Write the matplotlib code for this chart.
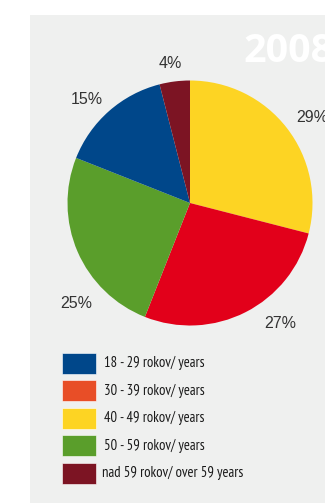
import matplotlib
matplotlib.use("Agg")
import matplotlib.pyplot as plt
from matplotlib.patches import Rectangle

# Age structure, year 2008
year = "2008"
categories = ["18 - 29 rokov/ years", "30 - 39 rokov/ years", "40 - 49 rokov/ years",
              "50 - 59 rokov/ years", "nad 59 rokov/ over 59 years"]
legend_colors = ["#00478A", "#E84E27", "#FDD423", "#5A9E2B", "#7C1423"]

# Pie slices, clockwise from 12 o'clock
slice_values = [29, 27, 25, 15, 4]
slice_colors = ["#FDD423", "#E2001A", "#5A9E2B", "#00478A", "#7C1423"]

W, H = 325, 503
fig = plt.figure(figsize=(W / 100, H / 100), dpi=100)
fig.patch.set_facecolor("white")

def fx(px):
    return px / W

def fy(py):
    return 1 - py / H

# grey panel
fig.add_artist(Rectangle((fx(30), 0), 1 - fx(30), fy(15), transform=fig.transFigure,
                         facecolor="#EFF0EF", edgecolor="none", zorder=0))

# pie axes
cx, cy, r = 190, 203, 122.5
ax = fig.add_axes([fx(cx - r), fy(cy + r), 2 * r / W, 2 * r / H])
ax.set_facecolor("none")
ax.pie(slice_values, colors=slice_colors, startangle=90, counterclock=False,
       radius=1, wedgeprops=dict(linewidth=0))
ax.set_xlim(-1, 1)
ax.set_ylim(-1, 1)
ax.set_aspect("equal")
ax.axis("off")

# percentage labels
label_px = [(312, 118), (280, 323), (76, 304), (87, 99), (170, 64)]
for v, (px, py) in zip(slice_values, label_px):
    ax.text((px - cx) / r, (cy - py) / r, f"{v}%", ha="center", va="center",
            fontsize=11.5, color="#333333", family="Liberation Sans", clip_on=False)

# year title
fig.text(fx(243), fy(51), year, ha="left", va="center", fontsize=28.5,
         fontweight="bold", color="white", family=["Open Sans", "DejaVu Sans"])

# legend
row_y = [363, 390.5, 418, 445.5, 473]
for lab, col, y in zip(categories, legend_colors, row_y):
    fig.add_artist(Rectangle((fx(62), fy(y + 10.5)), 33.5 / W, 21 / H,
                             transform=fig.transFigure, facecolor=col,
                             edgecolor="white", linewidth=0.4, zorder=2))
    x0 = 101.5 if lab.startswith("nad") else 104
    fig.text(fx(x0), fy(y), lab, ha="left", va="center", fontsize=10.5,
             color="#1a1a1a", family=["PT Sans Narrow", "Roboto Condensed", "DejaVu Sans"])

fig.savefig("out.png", dpi=100, facecolor=fig.get_facecolor())
